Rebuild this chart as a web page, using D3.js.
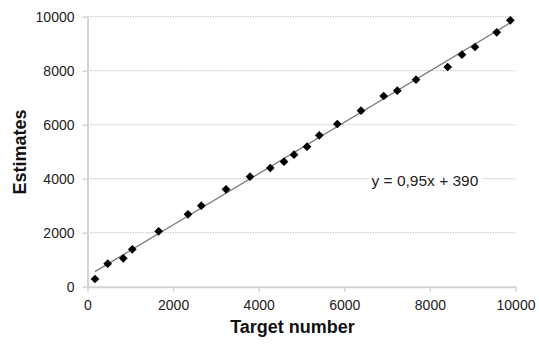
<!DOCTYPE html>
<html>
<head>
<meta charset="utf-8">
<script src="https://cdn.jsdelivr.net/npm/d3@7"></script>
<style>
  body { margin: 0; background: #fff; }
  text { font-family: "Liberation Sans", Arial, sans-serif; }
</style>
</head>
<body>
<div id="chart"></div>
<script>
// target numbers and estimates
const targets = [175, 472, 837, 1047, 1663, 2348, 2659, 3236, 3797, 4271, 4591, 4825,
                 5128, 5416, 5837, 6390, 6920, 7238, 7675, 8416, 8750, 9054, 9561, 9879];
const estimates = [285, 852, 1052, 1385, 2052, 2681, 3000, 3607, 4074, 4396, 4630, 4889,
                   5185, 5607, 6026, 6519, 7063, 7259, 7667, 8137, 8593, 8878, 9422, 9867];
const xTicks = [0, 2000, 4000, 6000, 8000, 10000];
const yTicks = [0, 2000, 4000, 6000, 8000, 10000];
const trend = {slope: 0.95, intercept: 390};
const trendLabel = "y = 0,95x + 390";

const width = 539, height = 344;
const margin = {top: 16.7, right: 23.5, bottom: 57.3, left: 87.5};

const svg = d3.select("#chart").append("svg")
    .attr("width", width)
    .attr("height", height);

const x = d3.scaleLinear().domain([0, 10000]).range([margin.left, width - margin.right]);
const y = d3.scaleLinear().domain([0, 10000]).range([height - margin.bottom, margin.top]);

// gridlines
svg.append("g")
    .selectAll("line")
    .data(yTicks.filter(d => d > 0))
    .enter().append("line")
    .attr("x1", x(0))
    .attr("x2", x(10000))
    .attr("y1", d => y(d))
    .attr("y2", d => y(d))
    .attr("stroke", "#c4c4c4")
    .attr("stroke-width", 1)
    .attr("stroke-dasharray", "1.5,1");

// axes
const xAxis = svg.append("g")
    .attr("transform", `translate(0, ${y(0)})`)
    .call(d3.axisBottom(x).tickValues(xTicks).tickSize(5).tickSizeOuter(0).tickPadding(8).tickFormat(d3.format("d")));

const yAxis = svg.append("g")
    .attr("transform", `translate(${x(0)}, 0)`)
    .call(d3.axisLeft(y).tickValues(yTicks).tickSize(5).tickSizeOuter(0).tickPadding(8).tickFormat(d3.format("d")));

[xAxis, yAxis].forEach(a => {
    a.select(".domain").attr("stroke", "#d4d4d4").attr("stroke-width", 2);
    a.selectAll(".tick line").attr("stroke", "#d4d4d4").attr("stroke-width", 1.5);
    a.selectAll(".tick text")
        .attr("fill", "#222")
        .style("font-size", "14px")
        .style("font-family", "'Liberation Sans', Arial, sans-serif");
});

// trend line
const xMin = d3.min(targets), xMax = d3.max(targets);
svg.append("line")
    .attr("x1", x(xMin))
    .attr("y1", y(trend.slope * xMin + trend.intercept))
    .attr("x2", x(xMax))
    .attr("y2", y(trend.slope * xMax + trend.intercept))
    .attr("stroke", "#7a7a7a")
    .attr("stroke-width", 1.3);

// points
const diamond = d3.symbol().type(d3.symbolSquare).size(38);
svg.append("g")
    .selectAll("path")
    .data(targets.map((t, i) => [t, estimates[i]]))
    .enter().append("path")
    .attr("d", diamond)
    .attr("transform", d => `translate(${x(d[0])}, ${y(d[1])}) rotate(45)`)
    .attr("fill", "#000");

// equation label with white box behind
const eq = svg.append("text")
    .attr("x", 371.5)
    .attr("y", 185.7)
    .style("font-size", "15.5px")
    .attr("fill", "#222")
    .text(trendLabel);
const bb = eq.node().getBBox();
svg.insert("rect", () => eq.node())
    .attr("x", bb.x - 3)
    .attr("y", bb.y)
    .attr("width", bb.width + 6)
    .attr("height", bb.height)
    .attr("fill", "#fff");

// axis titles
svg.append("text")
    .attr("x", 292.5)
    .attr("y", 333)
    .attr("text-anchor", "middle")
    .style("font-size", "18px")
    .style("font-weight", "bold")
    .attr("fill", "#111")
    .text("Target number");

svg.append("text")
    .attr("transform", "translate(25.5, 152) rotate(-90)")
    .attr("text-anchor", "middle")
    .style("font-size", "18px")
    .style("font-weight", "bold")
    .attr("fill", "#111")
    .text("Estimates");
</script>
</body>
</html>
